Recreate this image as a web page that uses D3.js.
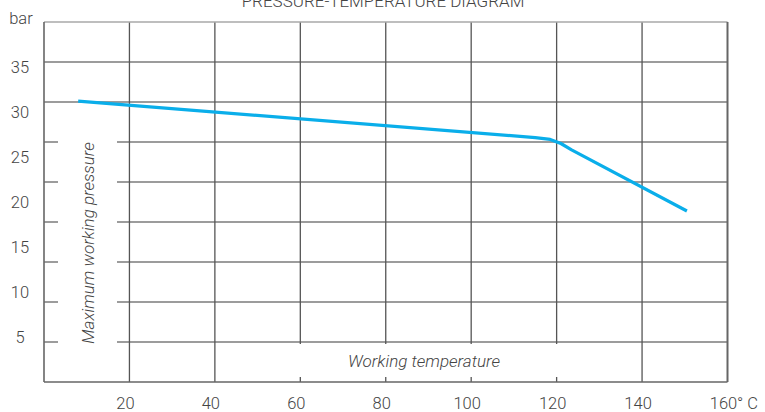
<!DOCTYPE html>
<html>
<head>
<meta charset="utf-8">
<script src="https://cdn.jsdelivr.net/npm/d3@7"></script>
<style>
  body { margin: 0; background: #fff; }
  text { font-family: Roboto, "Liberation Sans", sans-serif; font-weight: 300; fill: #444; }
</style>
</head>
<body>
<svg id="chart" width="765" height="412"></svg>
<script>
const width = 765;
const height = 412;

// Chart data
const temperature = [8, 115, 118.5, 121, 123.5, 150.5];   // °C
const pressure = [31.2, 27.15, 26.95, 26.5, 25.8, 19.0];  // bar
const xTicks = [20, 40, 60, 80, 100, 120, 140, 160];
const yTicks = [5, 10, 15, 20, 25, 30, 35];
const gridRows = 9; // the grid has 9 rows, not aligned with the labels

const svg = d3.select("#chart");

// Scales
const x = d3.scaleLinear().domain([0, 160]).range([44, 727.5]);
const y = d3.scaleLinear().domain([0, 40]).range([382, 22]);
const gridY = d3.scaleLinear().domain([0, gridRows]).range([382, 22]);

// Grid: horizontal lines
svg.append("g")
  .selectAll("line")
  .data(d3.range(1, gridRows))
  .join("line")
    .attr("x1", x(0)).attr("x2", x(160))
    .attr("y1", d => gridY(d)).attr("y2", d => gridY(d))
    .attr("stroke", "#3a3a3a")
    .attr("stroke-width", 1.1);

// Grid: vertical lines
svg.append("g")
  .selectAll("line")
  .data(xTicks.filter(d => d < 160))
  .join("line")
    .attr("x1", d => x(d)).attr("x2", d => x(d))
    .attr("y1", y(40)).attr("y2", y(0))
    .attr("stroke", "#555")
    .attr("stroke-width", 1.3);

// Frame
svg.append("line").attr("x1", x(0)).attr("x2", x(160)).attr("y1", y(40)).attr("y2", y(40))
  .attr("stroke", "#a8a8a8").attr("stroke-width", 1.6);
svg.append("line").attr("x1", x(160)).attr("x2", x(160)).attr("y1", y(40)).attr("y2", y(0))
  .attr("stroke", "#666").attr("stroke-width", 2);
svg.append("line").attr("x1", x(0)).attr("x2", x(0)).attr("y1", y(40)).attr("y2", y(0))
  .attr("stroke", "#666").attr("stroke-width", 1.6);
svg.append("line").attr("x1", x(0)).attr("x2", x(160)).attr("y1", y(0)).attr("y2", y(0))
  .attr("stroke", "#666").attr("stroke-width", 1.6);

// White boxes behind the axis titles (they mask the grid)
svg.append("rect").attr("x", 58).attr("y", 122).attr("width", 59).attr("height", 250).attr("fill", "#fff");
svg.append("rect").attr("x", 232).attr("y", 344).attr("width", 368).attr("height", 33).attr("fill", "#fff");

// Curve
const line = d3.line()
  .x((d, i) => x(temperature[i]))
  .y(d => y(d))
  .curve(d3.curveLinear);

svg.append("path")
  .attr("d", line(pressure))
  .attr("fill", "none")
  .attr("stroke", "#0aaeea")
  .attr("stroke-width", 3.2)
  .attr("stroke-linejoin", "round");

// Y tick labels
svg.append("g")
  .selectAll("text")
  .data(yTicks)
  .join("text")
    .attr("x", 20)
    .attr("y", d => y(d))
    .attr("dy", "0.35em")
    .attr("text-anchor", "middle")
    .style("font-size", "16.5px")
    .text(d => d);

svg.append("text")
  .attr("x", 21).attr("y", 18).attr("dy", "0.35em")
  .attr("text-anchor", "middle")
  .style("font-size", "16.5px")
  .text("bar");

// X tick labels
svg.append("g")
  .selectAll("text")
  .data(xTicks)
  .join("text")
    .attr("x", d => x(d) - 4)
    .attr("y", 403)
    .attr("dy", "0.35em")
    .attr("text-anchor", "middle")
    .style("font-size", "16.5px")
    .text(d => d);

svg.append("text")
  .attr("x", 737).attr("y", 403).attr("dy", "0.35em")
  .style("font-size", "16.5px")
  .text("° C");

// Axis titles
svg.append("text")
  .attr("transform", "translate(88,243) rotate(-90)")
  .attr("dy", "0.35em")
  .attr("text-anchor", "middle")
  .style("font-size", "17px")
  .style("font-style", "italic")
  .text("Maximum working pressure");

svg.append("text")
  .attr("x", 424).attr("y", 361).attr("dy", "0.35em")
  .attr("text-anchor", "middle")
  .style("font-size", "17px")
  .style("font-style", "italic")
  .text("Working temperature");

// Title, cut off by the top edge
svg.append("text")
  .attr("x", 383).attr("y", 7)
  .attr("text-anchor", "middle")
  .style("font-size", "17px")
  .text("PRESSURE-TEMPERATURE DIAGRAM");
</script>
</body>
</html>
